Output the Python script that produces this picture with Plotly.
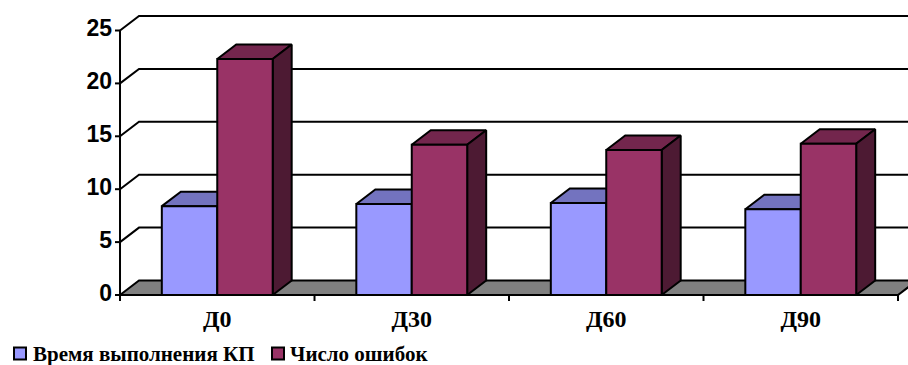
import plotly.graph_objects as go

# ---------------- data ----------------
categories = ["Д0", "Д30", "Д60", "Д90"]
series_names = ["Время выполнения КП", "Число ошибок"]
time_values = [8.4, 8.6, 8.7, 8.1]
error_values = [22.3, 14.2, 13.7, 14.3]
y_tick_values = [0, 5, 10, 15, 20, 25]
y_tick_labels = ["0", "5", "10", "15", "20", "25"]

# ---------------- styling / geometry ----------------
W, H = 908, 365
front_colors = ["#9999FF", "#993366"]
top_colors = ["#7373BF", "#73264D"]
side_colors = ["#4D4D80", "#4D1A33"]
floor_color = "#808080"
edge = dict(color="black", width=2)

bar_w = 0.285          # bar width in category units
dx = 0.0977            # 3-D depth (category units)
dy = 1.37              # 3-D depth (value units)
x_lo, x_hi = -1.117, 3.5514
y_lo, y_hi = -6.616, 27.883
n = len(categories)
left = -0.5
right = n - 0.5

fig = go.Figure()


def poly(xs, ys, fill, line=edge):
    fig.add_trace(go.Scatter(
        x=list(xs) + [xs[0]], y=list(ys) + [ys[0]],
        mode="lines", fill="toself", fillcolor=fill, line=line,
        hoverinfo="skip", showlegend=False))


def seg(xs, ys, line=edge):
    fig.add_trace(go.Scatter(x=xs, y=ys, mode="lines", line=line,
                             hoverinfo="skip", showlegend=False))


# back-wall gridlines with side-wall diagonals
for v in y_tick_values[1:]:
    seg([left, left + dx, x_hi + 0.2], [v, v + dy, v + dy])

# floor
poly([left, right, right + dx, left + dx], [0, 0, dy, dy], floor_color)

# y axis line and ticks
seg([left, left], [0, y_tick_values[-1]])
for v in y_tick_values:
    seg([left - 5 / 194.5, left], [v, v])

# x axis ticks at category boundaries
for k in range(n + 1):
    seg([left + k, left + k], [0, -6 / 10.58])

# bars (drawn left to right, back faces before front faces)
for i in range(n):
    for s, vals in enumerate([time_values, error_values]):
        x0 = i - bar_w + s * bar_w
        x1 = x0 + bar_w
        v = vals[i]
        poly([x0, x1, x1 + dx, x0 + dx], [v, v, v + dy, v + dy], top_colors[s])
        poly([x1, x1 + dx, x1 + dx, x1], [0, dy, v + dy, v], side_colors[s])
        poly([x0, x1, x1, x0], [0, 0, v, v], front_colors[s])

# y tick labels
fig.add_trace(go.Scatter(
    x=[left - 8 / 194.5] * len(y_tick_values), y=y_tick_values,
    text=y_tick_labels, mode="text", textposition="middle left",
    textfont=dict(family="Liberation Sans, Arial", size=23, color="black", weight="bold"),
    hoverinfo="skip", showlegend=False, cliponaxis=False))

# category labels
fig.add_trace(go.Scatter(
    x=list(range(n)), y=[-2.45] * n, text=categories, mode="text",
    textposition="middle center",
    textfont=dict(family="Liberation Serif, Times New Roman", size=24, color="black", weight="bold"),
    hoverinfo="skip", showlegend=False, cliponaxis=False))

# legend (manual, bottom left)
legend_font = dict(family="Liberation Serif, Times New Roman", size=21, color="black", weight="bold")
leg_y = 353.5
sq = 12
sq_x = [14, 272]
txt_x = [31, 288]
shapes = []
annotations = []
for s in range(2):
    shapes.append(dict(type="rect", xref="paper", yref="paper",
                       x0=sq_x[s] / W, x1=(sq_x[s] + sq) / W,
                       y0=1 - (leg_y + sq / 2) / H, y1=1 - (leg_y - sq / 2) / H,
                       fillcolor=front_colors[s], line=dict(color="black", width=2)))
    annotations.append(dict(xref="paper", yref="paper", x=txt_x[s] / W, y=1 - leg_y / H,
                            xanchor="left", yanchor="middle", text=series_names[s],
                            showarrow=False, font=legend_font))

fig.update_layout(
    width=W, height=H,
    margin=dict(l=0, r=0, t=0, b=0),
    paper_bgcolor="white", plot_bgcolor="white",
    xaxis=dict(range=[x_lo, x_hi], visible=False, fixedrange=True),
    yaxis=dict(range=[y_lo, y_hi], visible=False, fixedrange=True),
    shapes=shapes, annotations=annotations,
    showlegend=False,
)

fig.write_html("out.html")
